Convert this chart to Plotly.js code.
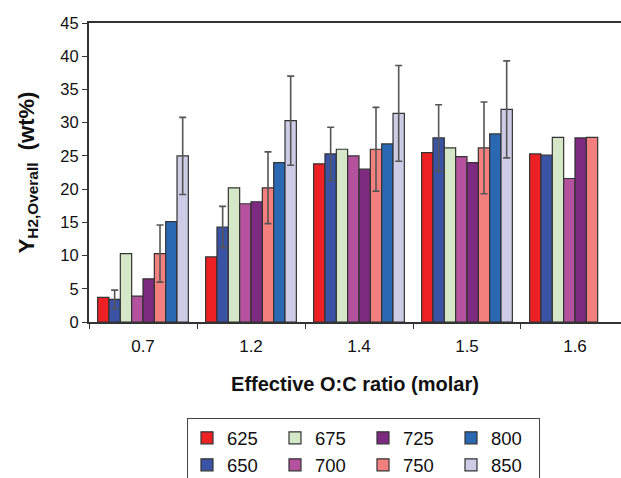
<!DOCTYPE html>
<html>
<head>
<meta charset="utf-8">
<script src="https://cdn.plot.ly/plotly-3.0.1.min.js"></script>
<style>
html, body { margin: 0; padding: 0; overflow: hidden; background: #fff; }
#chart { width: 621px; height: 478px; }
</style>
</head>
<body>
<div id="chart"></div>
<script>
// Categories (effective O:C ratio)
const categories = ["0.7", "1.2", "1.4", "1.5", "1.6"];

// Series values (Y_H2,Overall, wt%) by temperature
const temps = ["625", "650", "675", "700", "725", "750", "800", "850"];
const y625 = [3.7, 9.8, 23.8, 25.5, 25.3];
const y650 = [3.4, 14.3, 25.3, 27.7, 25.1];
const y675 = [10.3, 20.2, 26.0, 26.2, 27.8];
const y700 = [3.9, 17.8, 25.0, 24.9, 21.6];
const y725 = [6.5, 18.1, 23.0, 24.0, 27.7];
const y750 = [10.3, 20.2, 26.0, 26.2, 27.8];
const y800 = [15.1, 24.0, 26.8, 28.3, null];
const y850 = [25.0, 30.3, 31.4, 32.0, null];

// Error bar half-widths
const e650 = [1.4, 3.1, 4.0, 5.0, null];
const e750 = [4.3, 5.4, 6.3, 6.9, null];
const e850 = [5.8, 6.7, 7.2, 7.3, null];

// Y-axis tick values
const yTicks = [0, 5, 10, 15, 20, 25, 30, 35, 40, 45];

const series = [
  {name: "625", y: y625, err: null, color: "#ED2024", group: "a"},
  {name: "650", y: y650, err: e650, color: "#3A53A4", group: "a"},
  {name: "675", y: y675, err: null, color: "#D4E8C8", group: "b"},
  {name: "700", y: y700, err: null, color: "#B5529E", group: "b"},
  {name: "725", y: y725, err: null, color: "#7E2A80", group: "c"},
  {name: "750", y: y750, err: e750, color: "#F47F7F", group: "c"},
  {name: "800", y: y800, err: null, color: "#2B68B3", group: "d"},
  {name: "850", y: y850, err: e850, color: "#CDCBE6", group: "d"}
];

const FONT = "Liberation Sans, Arial, sans-serif";

const traces = series.map(s => {
  const t = {
    type: "bar",
    name: s.name,
    x: categories,
    y: s.y,
    legendgroup: s.group,
    marker: {color: s.color, line: {color: "#333333", width: 1.2}},
    hoverinfo: "x+y+name"
  };
  if (s.err) {
    t.error_y = {
      type: "data",
      array: s.err.map(v => (v === null ? NaN : v)),
      visible: true,
      color: "#555555",
      thickness: 1.6,
      width: 3.5
    };
  }
  return t;
});

const layout = {
  width: 621,
  height: 478,
  margin: {l: 89, r: 0, t: 23, b: 156, autoexpand: false},
  paper_bgcolor: "#ffffff",
  plot_bgcolor: "#ffffff",
  font: {family: FONT, color: "#111111"},
  barmode: "group",
  bargap: 0.16,
  bargroupgap: 0,
  showlegend: true,
  xaxis: {
    type: "category",
    range: [-0.5, 4.426],
    showline: true,
    linecolor: "#333333",
    linewidth: 2,
    mirror: true,
    ticks: "outside",
    tickson: "boundaries",
    ticklen: 5,
    tickcolor: "#333333",
    tickwidth: 1,
    ticklabelstandoff: 8,
    showgrid: false,
    tickfont: {family: FONT, size: 17, color: "#111111"},
    title: {
      text: "Effective O:C ratio (molar)",
      font: {family: FONT, size: 20, color: "#111111", weight: "bold"},
      standoff: 22
    }
  },
  yaxis: {
    range: [0, 45],
    tickvals: yTicks,
    showline: true,
    linecolor: "#333333",
    linewidth: 2,
    ticks: "outside",
    ticklen: 5,
    tickcolor: "#333333",
    tickwidth: 1,
    showgrid: false,
    zeroline: false,
    tickfont: {family: FONT, size: 16.5, color: "#111111"},
    title: {
      text: "Y<sub>H2,Overall</sub>\u00A0\u00A0(wt%)\u00A0\u00A0\u00A0",
      font: {family: FONT, size: 22, color: "#111111", weight: "bold"},
      standoff: 20
    }
  },
  legend: {
    orientation: "h",
    traceorder: "grouped",
    x: 0.1842,
    xanchor: "left",
    y: -0.322,
    yanchor: "top",
    entrywidth: 43,
    entrywidthmode: "pixels",
    bordercolor: "#444444",
    borderwidth: 1,
    bgcolor: "#ffffff",
    font: {family: FONT, size: 18.5, color: "#111111"}
  }
};

Plotly.newPlot("chart", traces, layout, {displayModeBar: false, staticPlot: true});
</script>
</body>
</html>
